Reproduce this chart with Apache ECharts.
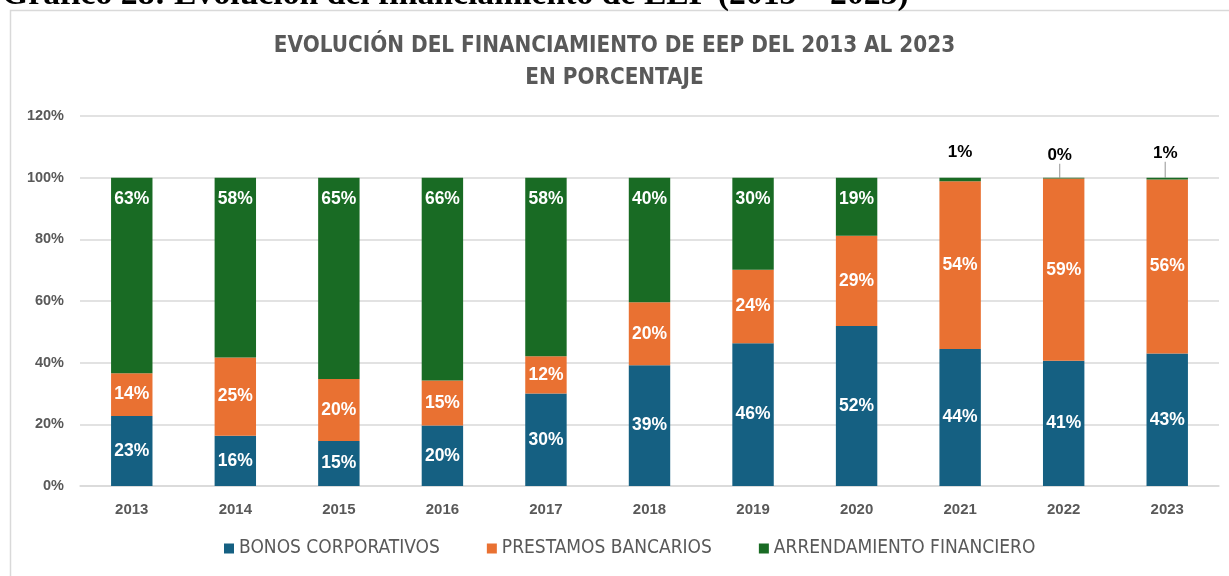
<!DOCTYPE html>
<html>
<head>
<meta charset="utf-8">
<script src="https://cdn.jsdelivr.net/npm/echarts@6/dist/echarts.min.js"></script>
<style>
html,body{margin:0;padding:0;background:#fff;}
#chart{width:1229px;height:576px;}
</style>
</head>
<body>
<div id="chart"></div>
<script>
const years = ['2013','2014','2015','2016','2017','2018','2019','2020','2021','2022','2023'];
const bonos = [22.7, 16.3, 14.6, 19.6, 30.0, 39.2, 46.3, 51.9, 44.4, 40.6, 43.0];
const prestamos = [13.9, 25.4, 20.1, 14.6, 12.1, 20.4, 23.8, 29.3, 54.4, 59.1, 56.4];
const arrendamiento = [63.4, 58.3, 65.3, 65.8, 57.9, 40.4, 29.9, 18.8, 1.2, 0.3, 0.6];
const seriesNames = ['BONOS CORPORATIVOS', 'PRESTAMOS BANCARIOS', 'ARRENDAMIENTO FINANCIERO'];
const titleText = 'EVOLUCIÓN DEL FINANCIAMIENTO DE EEP DEL 2013 AL 2023\nEN PORCENTAJE';
const headerText = 'Gráfico 28: Evolución del financiamiento de EEP (2013 – 2023)';

const colors = ['#156082', '#E97132', '#196B24'];
const condensed = '"Liberation Sans Narrow", "DejaVu Sans Condensed", "Roboto", sans-serif';

const chart = echarts.init(document.getElementById('chart'));

function insideLabel() {
  return {
    show: true,
    position: 'inside',
    color: '#ffffff',
    fontFamily: 'Liberation Sans, Arial, sans-serif',
    fontWeight: 'bold',
    fontSize: 17.5,
    formatter: p => Math.round(p.value) + '%'
  };
}

const greenData = arrendamiento.map((v, i) => {
  if (v < 5) {
    return {
      value: v,
      label: {
        show: true,
        position: 'top',
        color: '#000000',
        fontWeight: 'bold',
        fontSize: 17,
        distance: i === 8 ? 17 : 4
      },
      labelLine: {show: i !== 8}
    };
  }
  return v;
});

chart.setOption({
  animation: false,
  color: colors,
  graphic: [
    {
      type: 'rect',
      shape: {x: 10.5, y: 10.5, width: 1230, height: 600},
      style: {fill: 'none', stroke: '#d9d9d9', lineWidth: 1.5},
      z: -10
    },
    {
      type: 'text',
      x: 2,
      y: -22,
      style: {
        text: headerText,
        font: 'bold 33.7px "Liberation Serif", "Times New Roman", serif',
        fill: '#000000'
      }
    }
  ],
  title: {
    text: titleText,
    left: 'center',
    top: 25,
    textStyle: {
      fontFamily: condensed,
      fontWeight: 'bold',
      fontSize: 22.3,
      color: '#595959',
      lineHeight: 32
    }
  },
  legend: {
    bottom: 13,
    left: 219,
    itemWidth: 10,
    itemHeight: 10,
    itemGap: 47,
    icon: 'rect',
    data: seriesNames,
    textStyle: {
      fontFamily: condensed,
      fontSize: 19,
      color: '#595959'
    }
  },
  grid: {
    left: 80,
    right: 10,
    top: 116,
    bottom: 90,
    containLabel: false
  },
  xAxis: {
    type: 'category',
    data: years,
    axisLine: {show: true, lineStyle: {color: '#d9d9d9', width: 1.5}},
    axisTick: {show: false},
    axisLabel: {
      color: '#595959',
      fontWeight: 'bold',
      fontSize: 15,
      fontFamily: 'Liberation Sans, Arial, sans-serif',
      margin: 16
    }
  },
  yAxis: {
    type: 'value',
    min: 0,
    max: 120,
    interval: 20,
    axisLine: {show: false},
    axisTick: {show: false},
    splitLine: {lineStyle: {color: '#d9d9d9', width: 1.5}},
    axisLabel: {
      color: '#595959',
      fontWeight: 'bold',
      fontSize: 14.5,
      fontFamily: 'Liberation Sans, Arial, sans-serif',
      margin: 16,
      formatter: v => v + '%'
    }
  },
  series: [
    {
      name: seriesNames[0],
      type: 'bar',
      stack: 'total',
      barWidth: '40%',
      data: bonos,
      label: insideLabel()
    },
    {
      name: seriesNames[1],
      type: 'bar',
      stack: 'total',
      barWidth: '40%',
      data: prestamos,
      label: insideLabel()
    },
    {
      name: seriesNames[2],
      type: 'bar',
      stack: 'total',
      barWidth: '40%',
      data: greenData,
      label: Object.assign(insideLabel(), {position: 'insideTop', distance: 13}),
      labelLine: {show: true, lineStyle: {color: '#a6a6a6', width: 1.2}},
      labelLayout: function (params) {
        if (params.dataIndex === 9) return {dy: -10, dx: -4};
        if (params.dataIndex === 10) return {dy: -12, dx: -2};
        return {};
      }
    }
  ]
});
</script>
</body>
</html>
